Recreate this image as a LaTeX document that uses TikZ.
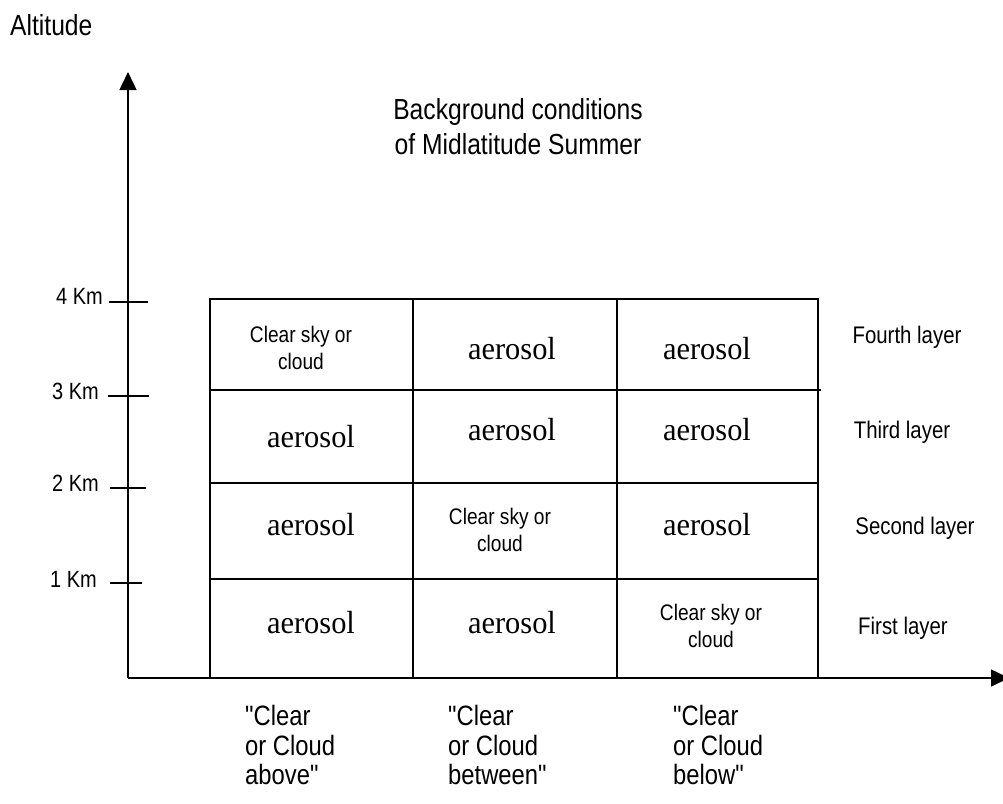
\documentclass[tikz,border=0pt]{standalone}
\usepackage{fontspec}
\setmainfont{Liberation Sans}
\newfontfamily\sansc{Liberation Sans}[FakeStretch=0.85]
\newfontfamily\serifc{Liberation Serif}[FakeStretch=0.95]
\usetikzlibrary{arrows.meta}
\begin{document}
\begin{tikzpicture}[x=1pt,y=-1pt,
  gridline/.style={line width=1.6pt},
  axisline/.style={line width=1.6pt,-{Triangle[width=17pt,length=18pt]}},
  tickline/.style={line width=1.6pt},
  bigtext/.style={inner sep=0pt,font=\sansc\fontsize{29}{35}\selectfont},
  ticklabel/.style={inner sep=0pt,anchor=east,font=\sansc\fontsize{23.5}{26}\selectfont},
  layerlabel/.style={inner sep=0pt,font=\sansc\fontsize{24}{28}\selectfont},
  aero/.style={inner sep=0pt,font=\serifc\fontsize{32}{36}\selectfont},
  clearcell/.style={inner sep=0pt,align=center,font=\sansc\fontsize{22.5}{27}\selectfont},
  bottomlabel/.style={inner sep=0pt,anchor=north west,align=left,font=\sansc\fontsize{28}{29.5}\selectfont}
]
\useasboundingbox (0,0) rectangle (1003,803);

% axes
\coordinate (origin) at (128,678);
\coordinate (ytip) at (128,72);
\coordinate (xtip) at (1009,678);
\draw[axisline] (origin) -- (ytip);
\draw[axisline] (origin) -- (xtip);

\node[bigtext,anchor=west] (alt) at (10,25) {Altitude};
\node[bigtext,align=center] (title) at (518,127) {Background conditions\\of Midlatitude Summer};

% ticks
\coordinate (t4a) at (109,302); \coordinate (t4b) at (148,302);
\coordinate (t3a) at (108,396); \coordinate (t3b) at (149,396);
\coordinate (t2a) at (110,488); \coordinate (t2b) at (146,488);
\coordinate (t1a) at (110,583); \coordinate (t1b) at (142,583);
\draw[tickline] (t4a) -- (t4b);
\draw[tickline] (t3a) -- (t3b);
\draw[tickline] (t2a) -- (t2b);
\draw[tickline] (t1a) -- (t1b);
\node[ticklabel] (k4) at (103,296) {4 Km};
\node[ticklabel] (k3) at (99,391) {3 Km};
\node[ticklabel] (k2) at (99,483) {2 Km};
\node[ticklabel] (k1) at (97,579) {1 Km};

% grid
\draw[gridline] (210,299) rectangle (818,678);
\draw[gridline] (413,299) -- (413,678);
\draw[gridline] (617,299) -- (617,678);
\draw[gridline] (210,390) -- (821,390);
\draw[gridline] (210,483) -- (818,483);
\draw[gridline] (210,579) -- (818,579);

% cells
\node[clearcell] (c11) at (301,348) {Clear sky or\\cloud};
\node[aero] (c12) at (512,349) {aerosol};
\node[aero] (c13) at (707,349) {aerosol};
\node[aero] (c21) at (311,437) {aerosol};
\node[aero] (c22) at (512,430) {aerosol};
\node[aero] (c23) at (707,430) {aerosol};
\node[aero] (c31) at (311,525) {aerosol};
\node[clearcell] (c32) at (500,530) {Clear sky or\\cloud};
\node[aero] (c33) at (707,525) {aerosol};
\node[aero] (c41) at (311,623) {aerosol};
\node[aero] (c42) at (512,623) {aerosol};
\node[clearcell] (c43) at (711,626) {Clear sky or\\cloud};

% layer labels
\node[layerlabel] (l4) at (907,337) {Fourth layer};
\node[layerlabel] (l3) at (902,432) {Third layer};
\node[layerlabel] (l2) at (915,528) {Second layer};
\node[layerlabel] (l1) at (903,628) {First layer};

% bottom labels
\node[bottomlabel] (b1) at (245,705) {"Clear\\or Cloud\\above"};
\node[bottomlabel] (b2) at (448,705) {"Clear\\or Cloud\\between"};
\node[bottomlabel] (b3) at (673,705) {"Clear\\or Cloud\\below"};
\end{tikzpicture}
\end{document}
